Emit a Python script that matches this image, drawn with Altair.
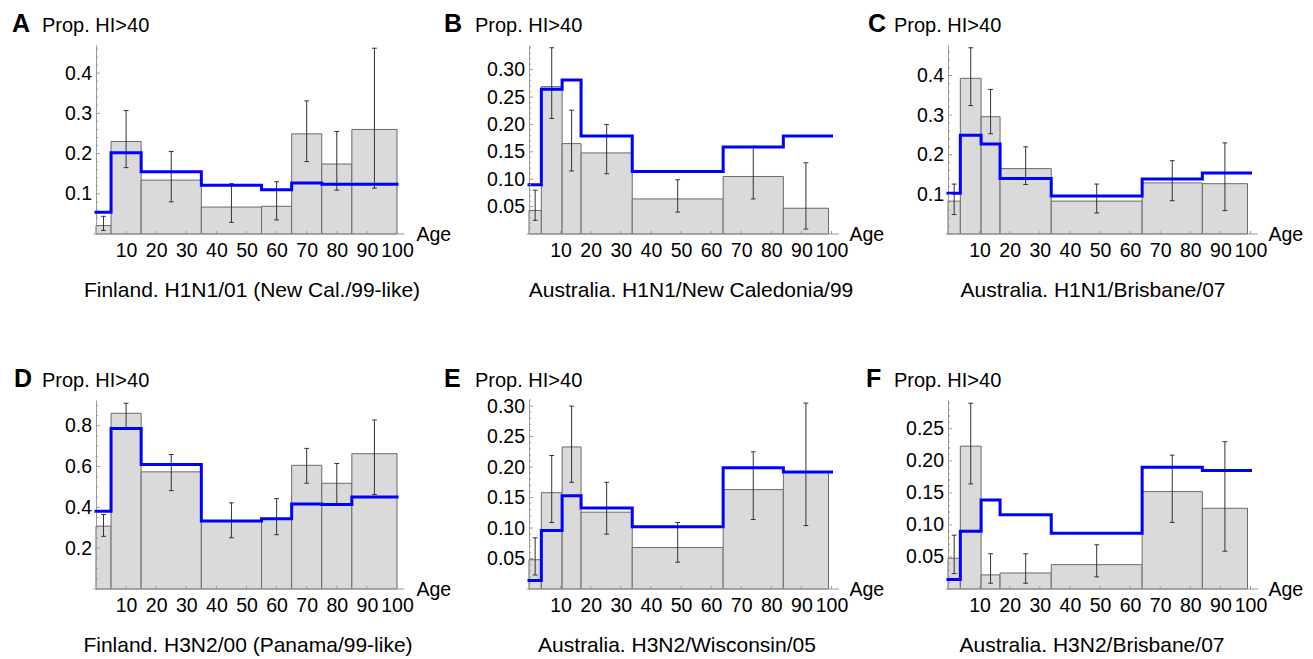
import altair as alt
import pandas as pd

FONT = "Liberation Sans"
BAR_FILL = "#dadada"
BAR_EDGE = "#6a6a6a"
ERR_COLOR = "#333333"
AXIS_COLOR = "#9a9a9a"
BLUE = "#0000ff"

W, H = 309, 189
EXTRA = 13.7  # extra width of left column (to realise a wider gap A->B)

# ---- data ----
FIN_EDGES = [0, 5, 15, 35, 55, 65, 75, 85, 100]
AUS_EDGES = [-0.5, 3.6, 10.5, 16.8, 33.8, 64, 84, 99]
X_TICKS = [10, 20, 30, 40, 50, 60, 70, 80, 90, 100]

A_obs = [0.021, 0.230, 0.134, 0.067, 0.069, 0.249, 0.174, 0.260]
A_lo = [0.009, 0.165, 0.080, 0.029, 0.035, 0.180, 0.109, 0.114]
A_hi = [0.044, 0.307, 0.205, 0.125, 0.130, 0.331, 0.255, 0.462]
A_model = [0.054, 0.202, 0.155, 0.121, 0.110, 0.127, 0.124, 0.124]

B_obs = [0.043, 0.269, 0.165, 0.148, 0.064, 0.105, 0.047]
B_lo = [0.025, 0.211, 0.115, 0.110, 0.040, 0.064, 0.009]
B_hi = [0.080, 0.340, 0.226, 0.200, 0.099, 0.160, 0.130]
B_model = [0.090, 0.264, 0.281, 0.179, 0.114, 0.159, 0.179]

C_obs = [0.083, 0.393, 0.296, 0.165, 0.083, 0.129, 0.127]
C_lo = [0.049, 0.324, 0.253, 0.125, 0.053, 0.084, 0.059]
C_hi = [0.126, 0.470, 0.365, 0.220, 0.126, 0.185, 0.230]
C_model = [0.103, 0.249, 0.227, 0.140, 0.096, 0.139, 0.154]

D_obs = [0.308, 0.861, 0.574, 0.331, 0.342, 0.606, 0.518, 0.663]
D_lo = [0.258, 0.789, 0.482, 0.251, 0.266, 0.518, 0.416, 0.463]
D_hi = [0.365, 0.910, 0.659, 0.422, 0.443, 0.689, 0.615, 0.828]
D_model = [0.381, 0.786, 0.610, 0.333, 0.344, 0.416, 0.414, 0.451]

E_obs = [0.048, 0.158, 0.233, 0.126, 0.068, 0.163, 0.191]
E_lo = [0.023, 0.109, 0.175, 0.090, 0.044, 0.114, 0.104]
E_hi = [0.084, 0.219, 0.300, 0.175, 0.109, 0.225, 0.305]
E_model = [0.014, 0.096, 0.153, 0.133, 0.102, 0.199, 0.192]

F_obs = [0.048, 0.223, 0.022, 0.025, 0.038, 0.152, 0.126]
F_lo = [0.024, 0.164, 0.009, 0.009, 0.019, 0.104, 0.059]
F_hi = [0.084, 0.290, 0.055, 0.055, 0.069, 0.209, 0.230]
F_model = [0.015, 0.090, 0.139, 0.116, 0.087, 0.190, 0.185]

PANELS = [
    dict(letter="A", sub="Finland. H1N1/01 (New Cal./99-like)", edges=FIN_EDGES,
         obs=A_obs, lo=A_lo, hi=A_hi, model=A_model, ytop=0.47,
         major=[0.1, 0.2, 0.3, 0.4], minor=0.02, fmt=".1f", x0=0,
         ldx=-84, scx=156, anchor=True, wide=True),
    dict(letter="B", sub="Australia. H1N1/New Caledonia/99", edges=AUS_EDGES,
         obs=B_obs, lo=B_lo, hi=B_hi, model=B_model, ytop=0.345,
         major=[0.05, 0.10, 0.15, 0.20, 0.25, 0.30], minor=0.01, fmt=".2f", x0=-0.5,
         ldx=-85, scx=162, anchor=False, wide=False),
    dict(letter="C", sub="Australia. H1N1/Brisbane/07", edges=AUS_EDGES,
         obs=C_obs, lo=C_lo, hi=C_hi, model=C_model, ytop=0.477,
         major=[0.1, 0.2, 0.3, 0.4], minor=0.02, fmt=".1f", x0=-0.5,
         ldx=-80, scx=145, anchor=False, wide=False),
    dict(letter="D", sub="Finland. H3N2/00 (Panama/99-like)", edges=FIN_EDGES,
         obs=D_obs, lo=D_lo, hi=D_hi, model=D_model, ytop=0.926,
         major=[0.2, 0.4, 0.6, 0.8], minor=0.05, fmt=".1f", x0=0,
         ldx=-82, scx=152, anchor=False, wide=True),
    dict(letter="E", sub="Australia. H3N2/Wisconsin/05", edges=AUS_EDGES,
         obs=E_obs, lo=E_lo, hi=E_hi, model=E_model, ytop=0.310,
         major=[0.05, 0.10, 0.15, 0.20, 0.25, 0.30], minor=0.01, fmt=".2f", x0=-0.5,
         ldx=-85, scx=148, anchor=False, wide=False),
    dict(letter="F", sub="Australia. H3N2/Brisbane/07", edges=AUS_EDGES,
         obs=F_obs, lo=F_lo, hi=F_hi, model=F_model, ytop=0.295,
         major=[0.05, 0.10, 0.15, 0.20, 0.25], minor=0.01, fmt=".2f", x0=-0.5,
         ldx=-82, scx=144, anchor=False, wide=False),
]
LINE_END = 100
AXIS_END = 102.5
PX_PER_UNIT = 3.01


def text_layer(txt, x, y, size, align="left", weight="normal"):
    return alt.Chart(pd.DataFrame({"t": [txt]})).mark_text(
        align=align, baseline="alphabetic", font=FONT, fontSize=size,
        fontWeight=weight, color="black"
    ).encode(x=alt.value(x), y=alt.value(y), text="t:N")


def make_panel(p):
    edges = p["edges"]
    width = W + (EXTRA if p["wide"] else 0)
    xmax = p["x0"] + width / PX_PER_UNIT
    bars = pd.DataFrame({"x0": edges[:-1], "x1": edges[1:], "obs": p["obs"],
                         "lo": p["lo"], "hi": p["hi"]})
    bars["xc"] = (bars["x0"] + bars["x1"]) / 2
    bars["xl"] = bars["xc"] - 0.8
    bars["xr"] = bars["xc"] + 0.8
    model = pd.DataFrame({"x": list(edges[:-1]) + [LINE_END],
                          "m": list(p["model"]) + [p["model"][-1]]})
    xs = alt.Scale(domain=[p["x0"], xmax], nice=False, zero=False)
    ys = alt.Scale(domain=[0, p["ytop"]], nice=False)

    xaxis = alt.Axis(values=X_TICKS, format="d", ticks=False, tickSize=0, grid=False,
                     domain=False, labelFont=FONT,
                     labelFontSize=19.5, labelColor="black", labelPadding=7,
                     labelOverlap=False, labelFlush=False, labelBound=False, title=None)
    yaxis = alt.Axis(values=p["major"], format=p["fmt"], ticks=False, tickSize=0, grid=False,
                     domainColor=AXIS_COLOR, domainWidth=1, labelFont=FONT,
                     labelFontSize=19.5, labelColor="black", labelPadding=4.5,
                     labelOverlap=False, labelFlush=False, labelBound=False, title=None)

    def X(f):
        return alt.X(f, scale=xs, axis=xaxis)

    def Y(f):
        return alt.Y(f, scale=ys, axis=yaxis)

    step = p["minor"]
    k_max = int(p["ytop"] / step + 1e-9)
    minor_vals = [round(k * step, 4) for k in range(1, k_max + 1)]
    minor_vals = [v for v in minor_vals if all(abs(v - m) > 1e-6 for m in p["major"])]

    axis_line = pd.DataFrame({"a": [p["x0"] - 0.8], "b": [AXIS_END], "y": [0]})

    layers = [
        alt.Chart(bars).mark_rect(fill=BAR_FILL, stroke=BAR_EDGE, strokeWidth=1).encode(
            x=X("x0:Q"), x2="x1:Q", y=Y("obs:Q"), y2=alt.datum(0)),
        alt.Chart(bars).mark_rule(color=ERR_COLOR, strokeWidth=1).encode(
            x=X("xc:Q"), y=Y("lo:Q"), y2="hi:Q"),
        alt.Chart(bars).mark_rule(color=ERR_COLOR, strokeWidth=1).encode(
            x=X("xl:Q"), x2="xr:Q", y=Y("lo:Q")),
        alt.Chart(bars).mark_rule(color=ERR_COLOR, strokeWidth=1).encode(
            x=X("xl:Q"), x2="xr:Q", y=Y("hi:Q")),
        alt.Chart(model).mark_line(color=BLUE, strokeWidth=3, interpolate="step-after",
                                   strokeCap="square").encode(x=X("x:Q"), y=Y("m:Q")),
        alt.Chart(axis_line).mark_rule(color=AXIS_COLOR, strokeWidth=1).encode(
            x=X("a:Q"), x2="b:Q", y=Y("y:Q")),
        alt.Chart(pd.DataFrame({"v": p["major"]})).mark_rule(color=AXIS_COLOR, strokeWidth=1).encode(
            y=Y("v:Q"), x=alt.value(0), x2=alt.value(4)),
        alt.Chart(pd.DataFrame({"v": minor_vals})).mark_rule(color=AXIS_COLOR, strokeWidth=1).encode(
            y=Y("v:Q"), x=alt.value(0), x2=alt.value(2)),
        alt.Chart(pd.DataFrame({"v": X_TICKS})).mark_rule(color=AXIS_COLOR, strokeWidth=1).encode(
            x=X("v:Q"), y=alt.value(H), y2=alt.value(H - 3)),
        text_layer(p["letter"], p["ldx"], -13.3, 25, weight="bold"),
        text_layer("Prop. HI>40", -54, -13.3, 20),
        text_layer("Age", 320.5, H + 7, 19.5),
        text_layer(p["sub"], p["scx"], H + 62.7, 21, align="center"),
    ]
    if p["anchor"]:
        layers.append(alt.Chart(pd.DataFrame({"t": [0]})).mark_rule(color="white", strokeWidth=1).encode(
            x=alt.value(-87.1), x2=alt.value(-87.1), y=alt.value(-36.5), y2=alt.value(-36)))
    return alt.layer(*layers).properties(width=width, height=H)


charts = [make_panel(p) for p in PANELS]
chart = alt.concat(*charts, columns=3, spacing={"row": 166, "column": 110},
                   bounds="flush").properties(
    padding=0, background="white"
).configure_view(stroke=None)

chart.save("out.html", embed_options={"renderer": "svg", "actions": False})
